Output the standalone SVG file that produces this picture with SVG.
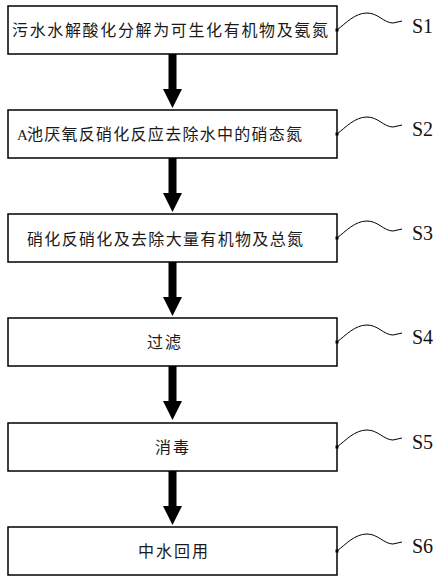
<svg xmlns="http://www.w3.org/2000/svg" width="438" height="585" viewBox="0 0 438 585">
<style>
.box{fill:#fff;stroke:#000;stroke-width:1.5}
.t{font-family:"Noto Sans CJK SC","Noto Sans",sans-serif;font-size:16px;fill:#1a1a1a}
.s{font-family:"Liberation Serif",serif;font-size:20px;fill:#111}
.w{fill:none;stroke:#000;stroke-width:1}
.shaft{fill:#000}
</style>
<defs>
<g id="arr"><rect x="168.5" y="0" width="8" height="36" class="shaft"/><polygon points="163,35 182,35 172.5,54"/></g>
<g id="lead"><path class="w" d="M337,0 C346,-7 355,-17 367,-17 C378,-17 384,-7 393,-7 L402,-9"/><rect x="335.5" y="-1.5" width="3" height="3"/></g>
</defs>
<rect width="438" height="585" fill="#fff"/>
<g id="connectors">
<use href="#arr" x="0" y="54"/>
<use href="#arr" x="0" y="158"/>
<use href="#arr" x="0" y="262"/>
<use href="#arr" x="0" y="366"/>
<use href="#arr" x="0" y="471"/>
</g>
<g id="S1"><rect class="box" x="8" y="6" width="329" height="48"/><text class="t" x="12" y="36" textLength="316" lengthAdjust="spacing">污水水解酸化分解为可生化有机物及氨氮</text><use href="#lead" y="30"/><text class="s" x="412" y="33">S1</text></g>
<g id="S2"><rect class="box" x="8" y="110" width="329" height="48"/><text class="t" x="17" y="140"><tspan font-family="Liberation Serif, serif" font-size="15">A</tspan><tspan x="27" textLength="275" lengthAdjust="spacing">池厌氧反硝化反应去除水中的硝态氮</tspan></text><use href="#lead" y="134"/><text class="s" x="412" y="136">S2</text></g>
<g id="S3"><rect class="box" x="8" y="214" width="329" height="48"/><text class="t" x="27" y="245" textLength="276" lengthAdjust="spacing">硝化反硝化及去除大量有机物及总氮</text><use href="#lead" y="238"/><text class="s" x="412" y="240">S3</text></g>
<g id="S4"><rect class="box" x="8" y="318" width="329" height="48"/><text class="t" x="165" y="348" text-anchor="middle" letter-spacing="2">过滤</text><use href="#lead" y="342"/><text class="s" x="412" y="344">S4</text></g>
<g id="S5"><rect class="box" x="8" y="423" width="329" height="48"/><text class="t" x="173" y="453" text-anchor="middle" letter-spacing="2">消毒</text><use href="#lead" y="447"/><text class="s" x="412" y="449">S5</text></g>
<g id="S6"><rect class="box" x="8" y="527" width="329" height="48"/><text class="t" x="174" y="557" text-anchor="middle" letter-spacing="2">中水回用</text><use href="#lead" y="551"/><text class="s" x="412" y="553">S6</text></g>
</svg>
